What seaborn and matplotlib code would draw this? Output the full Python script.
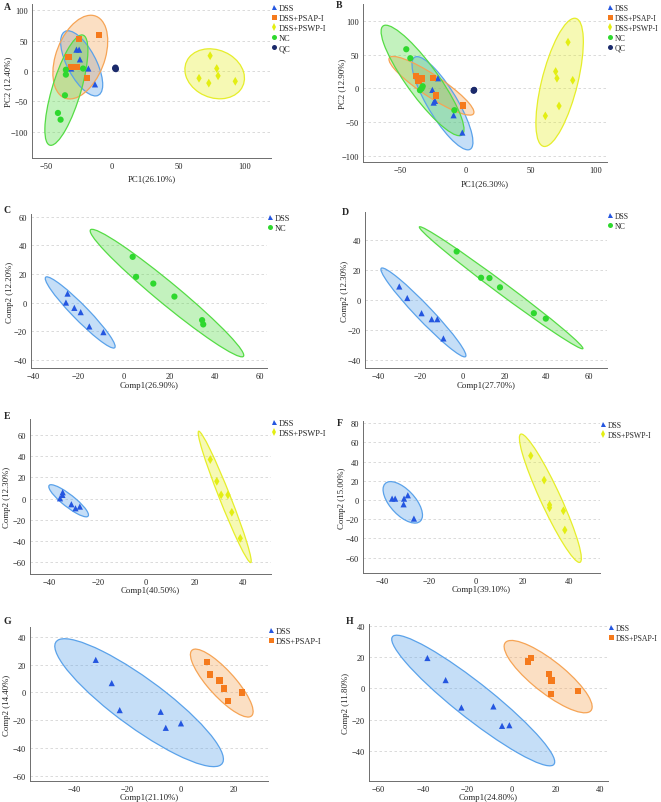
import numpy as np
import pandas as pd
import matplotlib
matplotlib.use("Agg")
import matplotlib.pyplot as plt
from matplotlib.patches import Ellipse
from matplotlib.lines import Line2D
from matplotlib.ticker import MultipleLocator
import seaborn as sns

# Group names
DSS, PSAP, PSWP, NC, QC = "DSS", "DSS+PSAP-I", "DSS+PSWP-I", "NC", "QC"

# Panel A: PCA scores (PC1, PC2)
a_dss_x = [-31, -27, -25, -24.4, -18, -13]
a_dss_y = [4, 35, 35, 19, 4, -22]
a_psap_x = [-25, -10, -33, -31, -26.6, -19]
a_psap_y = [53, 59, 23.5, 6.6, 6, -11.5]
a_pswp_x = [74, 79, 65.6, 73, 80, 93]
a_pswp_y = [25, 4, -12, -20, -8, -17]
a_nc_x = [-35, -35, -22, -35.7, -41, -39]
a_nc_y = [2, -6, 4, -40, -69, -80]
a_qc_x = [2.5, 2.8, 2.2]
a_qc_y = [5.5, 3.0, 4.2]

# Panel B: PCA scores
b_dss_x = [-21, -25.3, -24.3, -23.3, -9, -2.3]
b_dss_y = [15, -2.2, -21, -18.5, -39.8, -65.4]
b_psap_x = [-37.6, -36, -33.2, -25, -22.3, -1.8]
b_psap_y = [18.5, 10.6, 14.6, 15.6, -10.6, -25.4]
b_pswp_x = [78.8, 69.3, 70.3, 82.4, 71.9, 61.4]
b_pswp_y = [68.4, 25, 15, 12, -26, -40.7]
b_nc_x = [-45.3, -42.2, -32.7, -33.5, -34.8, -8.4]
b_nc_y = [58, 44.7, 3.2, -0.2, -2.7, -32.3]
b_qc_x = [6.6, 6.4, 6.8]
b_qc_y = [-2.7, -3.5, -2.2]

# Panels C-H: PLS-DA scores (Comp1, Comp2)
c_dss_x = [-24.9, -25.6, -21.9, -19.1, -15.3, -9.1]
c_dss_y = [6.3, 0, -3.7, -6.7, -16.7, -20.7]
c_nc_x = [3.8, 5.3, 12.9, 22.2, 34.4, 34.9]
c_nc_y = [32, 18, 13.3, 4.2, -12.3, -15.3]

d_dss_x = [-30, -26.2, -19.4, -14.6, -11.9, -9]
d_dss_y = [9, 1.3, -8.8, -12.8, -12.8, -25.6]
d_nc_x = [-2.7, 8.9, 12.9, 17.9, 34, 39.7]
d_nc_y = [32.3, 14.8, 14.6, 8.4, -8.8, -12.4]

e_dss_x = [-35.6, -34.6, -34.5, -30.9, -29.2, -27.4]
e_dss_y = [0.3, 3.5, 6, -5.3, -9.1, -7.5]
e_pswp_x = [26.5, 29.2, 31, 33.8, 35.4, 38.9]
e_pswp_y = [36.8, 16.3, 3.5, 3.5, -12.9, -37.4]

f_dss_x = [-35.6, -34.3, -30.5, -28.9, -30.7, -26.3]
f_dss_y = [1.5, 1.5, 1.5, 5, -4.4, -19.3]
f_pswp_x = [23.5, 29.2, 31.5, 31.5, 37.4, 38]
f_pswp_y = [46.2, 20.8, -5.1, -8, -11.2, -31.2]

g_dss_x = [-31.9, -25.9, -22.9, -7.5, -5.6, 0.1]
g_dss_y = [23.4, 6.7, -12.7, -13.9, -25.4, -22.2]
g_psap_x = [9.75, 11.1, 14.6, 16.25, 23, 17.9]
g_psap_y = [22, 12.9, 8.6, 2.9, 0, -6]

h_dss_x = [-37.9, -29.7, -22.6, -8.2, -4.3, -1]
h_dss_y = [19.3, 5.2, -12.3, -11.6, -24, -23.6]
h_psap_x = [7.5, 8.7, 16.8, 18, 17.7, 30]
h_psap_y = [17, 19.1, 8.9, 5, -3.7, -1.8]

# axis labels
x_labels = ["PC1(26.10%)", "PC1(26.30%)", "Comp1(26.90%)", "Comp1(27.70%)",
            "Comp1(40.50%)", "Comp1(39.10%)", "Comp1(21.10%)", "Comp1(24.80%)"]
y_labels = ["PC2 (12.40%)", "PC2 (12.90%)", "Comp2 (12.20%)", "Comp2 (12.30%)",
            "Comp2 (12.30%)", "Comp2 (15.00%)", "Comp2 (14.40%)", "Comp2 (11.80%)"]

# styles
point_colors = {DSS: "#2456e0", PSAP: "#f57a1c", PSWP: "#e3ee12", NC: "#2ed82e", QC: "#1b2a6b"}
ell_colors = {DSS: "#5aa2ea", PSAP: "#f6a455", PSWP: "#e6ee2a", NC: "#55dc45", QC: "#1b2a6b"}
markers = {DSS: "^", PSAP: "s", PSWP: "d", NC: "o", QC: "o"}

sns.set_style("white")
plt.rcParams["font.family"] = ["Liberation Serif", "DejaVu Serif"]
plt.rcParams["font.size"] = 6.5

W, H = 661, 803
fig = plt.figure(figsize=(W / 100, H / 100), dpi=100)

# pixel boxes: left, top, right, bottom
boxes = [(32, 5, 271, 159), (363, 5, 607, 163), (31, 215, 267, 369), (365, 213, 607, 369),
         (30, 420, 271, 575), (363, 422, 600, 574), (30, 628, 268, 782), (369, 625, 608, 782)]
limits = [((-60.6, 120), (-143, 110)), ((-78.5, 108.7), (-109, 125)),
          ((-41, 63), (-45.8, 62)), ((-46.3, 68.8), (-45.3, 58.6)),
          ((-48, 51.6), (-71, 75)), ((-48, 53), (-76, 82.4)),
          ((-56.6, 32.8), (-63.6, 47)), ((-64.2, 43.4), (-59.2, 41))]
steps = [(50, 50), (50, 50), (20, 20), (20, 20), (20, 20), (20, 20), (20, 20), (20, 20)]
ylabel_px = [8, 342, 10, 345, 7, 342, 7, 346]
xlabel_py = [179, 184, 386, 386, 591, 590, 798, 798]
letters = ["A", "B", "C", "D", "E", "F", "G", "H"]
letter_pos = [(4, 7), (336, 6), (4, 211), (342, 213), (4, 417), (337, 424), (4, 622), (346, 622)]

panels = [
    [(DSS, a_dss_x, a_dss_y), (PSAP, a_psap_x, a_psap_y), (PSWP, a_pswp_x, a_pswp_y),
     (NC, a_nc_x, a_nc_y), (QC, a_qc_x, a_qc_y)],
    [(DSS, b_dss_x, b_dss_y), (PSAP, b_psap_x, b_psap_y), (PSWP, b_pswp_x, b_pswp_y),
     (NC, b_nc_x, b_nc_y), (QC, b_qc_x, b_qc_y)],
    [(DSS, c_dss_x, c_dss_y), (NC, c_nc_x, c_nc_y)],
    [(DSS, d_dss_x, d_dss_y), (NC, d_nc_x, d_nc_y)],
    [(DSS, e_dss_x, e_dss_y), (PSWP, e_pswp_x, e_pswp_y)],
    [(DSS, f_dss_x, f_dss_y), (PSWP, f_pswp_x, f_pswp_y)],
    [(DSS, g_dss_x, g_dss_y), (PSAP, g_psap_x, g_psap_y)],
    [(DSS, h_dss_x, h_dss_y), (PSAP, h_psap_x, h_psap_y)],
]

R95 = np.sqrt(-2 * np.log(0.05))  # 95% normal confidence ellipse


def conf_ellipse(ax, x, y, color):
    pts = np.column_stack([x, y])
    cov = np.cov(pts, rowvar=False)
    vals, vecs = np.linalg.eigh(cov)
    order = vals.argsort()[::-1]
    vals, vecs = vals[order], vecs[:, order]
    angle = np.degrees(np.arctan2(vecs[1, 0], vecs[0, 0]))
    w, h = 2 * R95 * np.sqrt(np.maximum(vals, 0))
    ax.add_patch(Ellipse(pts.mean(axis=0), w, h, angle=angle, facecolor=color,
                         alpha=0.35, edgecolor="none", zorder=1))
    ax.add_patch(Ellipse(pts.mean(axis=0), w, h, angle=angle, facecolor="none",
                         edgecolor=color, lw=0.9, zorder=2))


for i, groups in enumerate(panels):
    l, t, r, b = boxes[i]
    ax = fig.add_axes([l / W, 1 - b / H, (r - l) / W, (b - t) / H])
    df = pd.concat([pd.DataFrame({"x": gx, "y": gy, "group": g}) for g, gx, gy in groups],
                   ignore_index=True)
    names = [g for g, _, _ in groups]
    for g, gx, gy in groups:
        conf_ellipse(ax, gx, gy, ell_colors[g])
    sns.scatterplot(data=df, x="x", y="y", hue="group", style="group", hue_order=names,
                    style_order=names, palette=point_colors, markers=markers, s=20,
                    linewidth=0, ax=ax, legend=False, zorder=3)
    (x0, x1), (y0, y1) = limits[i]
    ax.set_xlim(x0, x1)
    ax.set_ylim(y0, y1)
    ax.xaxis.set_major_locator(MultipleLocator(steps[i][0]))
    ax.yaxis.set_major_locator(MultipleLocator(steps[i][1]))
    ax.grid(axis="y", linestyle=(0, (3, 3)), color="#d4d4d4", linewidth=0.6)
    ax.grid(axis="x", visible=False)
    ax.set_axisbelow(True)
    for s in ["top", "right"]:
        ax.spines[s].set_visible(False)
    for s in ["left", "bottom"]:
        ax.spines[s].set_color("#6d6d6d")
        ax.spines[s].set_linewidth(0.7)
    ax.tick_params(axis="both", length=2, width=0.6, color="#6d6d6d", pad=1,
                   labelsize=6, labelcolor="#222222")
    ax.set_xlabel(x_labels[i], fontsize=6.3, color="#222222", va="center")
    ax.set_ylabel(y_labels[i], fontsize=6.3, color="#222222", va="center")
    ax.yaxis.set_label_coords((ylabel_px[i] - l) / (r - l), 0.5)
    ax.xaxis.set_label_coords(0.5, (b - xlabel_py[i]) / (b - t))

    handles = [Line2D([], [], linestyle="none", marker=markers[g], markersize=3.6,
                      markerfacecolor=point_colors[g], markeredgewidth=0) for g in names]
    right_col = l > W / 2
    ax.legend(handles, names, loc="upper left", bbox_to_anchor=(1.0, 1.0), frameon=False,
              borderaxespad=0, borderpad=0, labelspacing=0.25, handlelength=0.7,
              handletextpad=0.25, fontsize=5.6 if right_col else 6)

    lx, ly = letter_pos[i]
    fig.text(lx / W, 1 - ly / H, letters[i], fontsize=7, fontweight="bold",
             ha="left", va="center")

fig.savefig("out.png", dpi=100)
